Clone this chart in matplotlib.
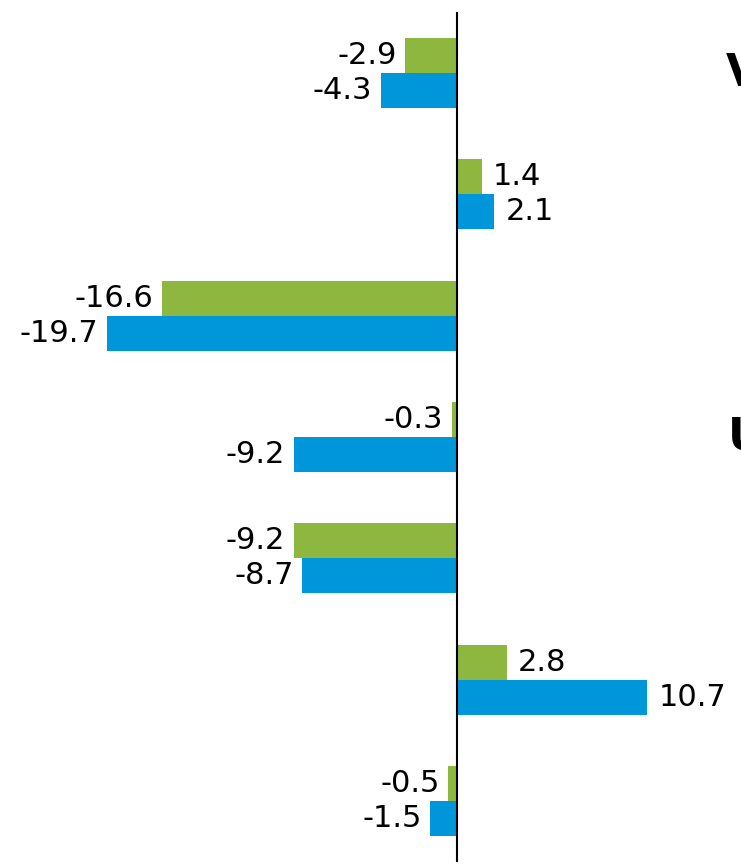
import numpy as np
import matplotlib
matplotlib.use("Agg")
import matplotlib.pyplot as plt

# values per row, top to bottom
green_vals = [-2.9, 1.4, -16.6, -0.3, -9.2, 2.8, -0.5]
blue_vals = [-4.3, 2.1, -19.7, -9.2, -8.7, 10.7, -1.5]
green_col = "#8DB73F"
blue_col = "#0096DA"

W, H = 741, 864
fig = plt.figure(figsize=(W / 100, H / 100), dpi=100)
ax = fig.add_axes([0, 2 / H, 1, 850 / H])

pxu = 350 / 19.7  # pixels per unit
ax.set_xlim(-457 / pxu, (W - 457) / pxu)
ax.set_ylim(6.5, -0.5)

y = np.arange(len(green_vals))
bh = 0.288
ax.barh(y - bh / 2, green_vals, height=bh, color=green_col)
ax.barh(y + bh / 2, blue_vals, height=bh, color=blue_col)
ax.axvline(0, color="black", lw=1.5)

for yy, vals in ((y - bh / 2, green_vals), (y + bh / 2, blue_vals)):
    for yi, v in zip(yy, vals):
        if v < 0:
            ax.annotate("%.1f" % v, (v, yi), xytext=(-6, 0), textcoords="offset points",
                        ha="right", va="center", fontsize=22)
        else:
            ax.annotate("%.1f" % v, (v, yi), xytext=(8, 0), textcoords="offset points",
                        ha="left", va="center", fontsize=22)

# section headings running off the right edge
ax.text(726 / W, 1 - 62 / 850, "V", transform=ax.transAxes, fontsize=32,
        fontweight="bold", ha="left", va="center")
ax.text(728 / W, 1 - 425 / 850, "U", transform=ax.transAxes, fontsize=32,
        fontweight="bold", ha="left", va="center")

ax.axis("off")
fig.savefig("out.png", dpi=100)
